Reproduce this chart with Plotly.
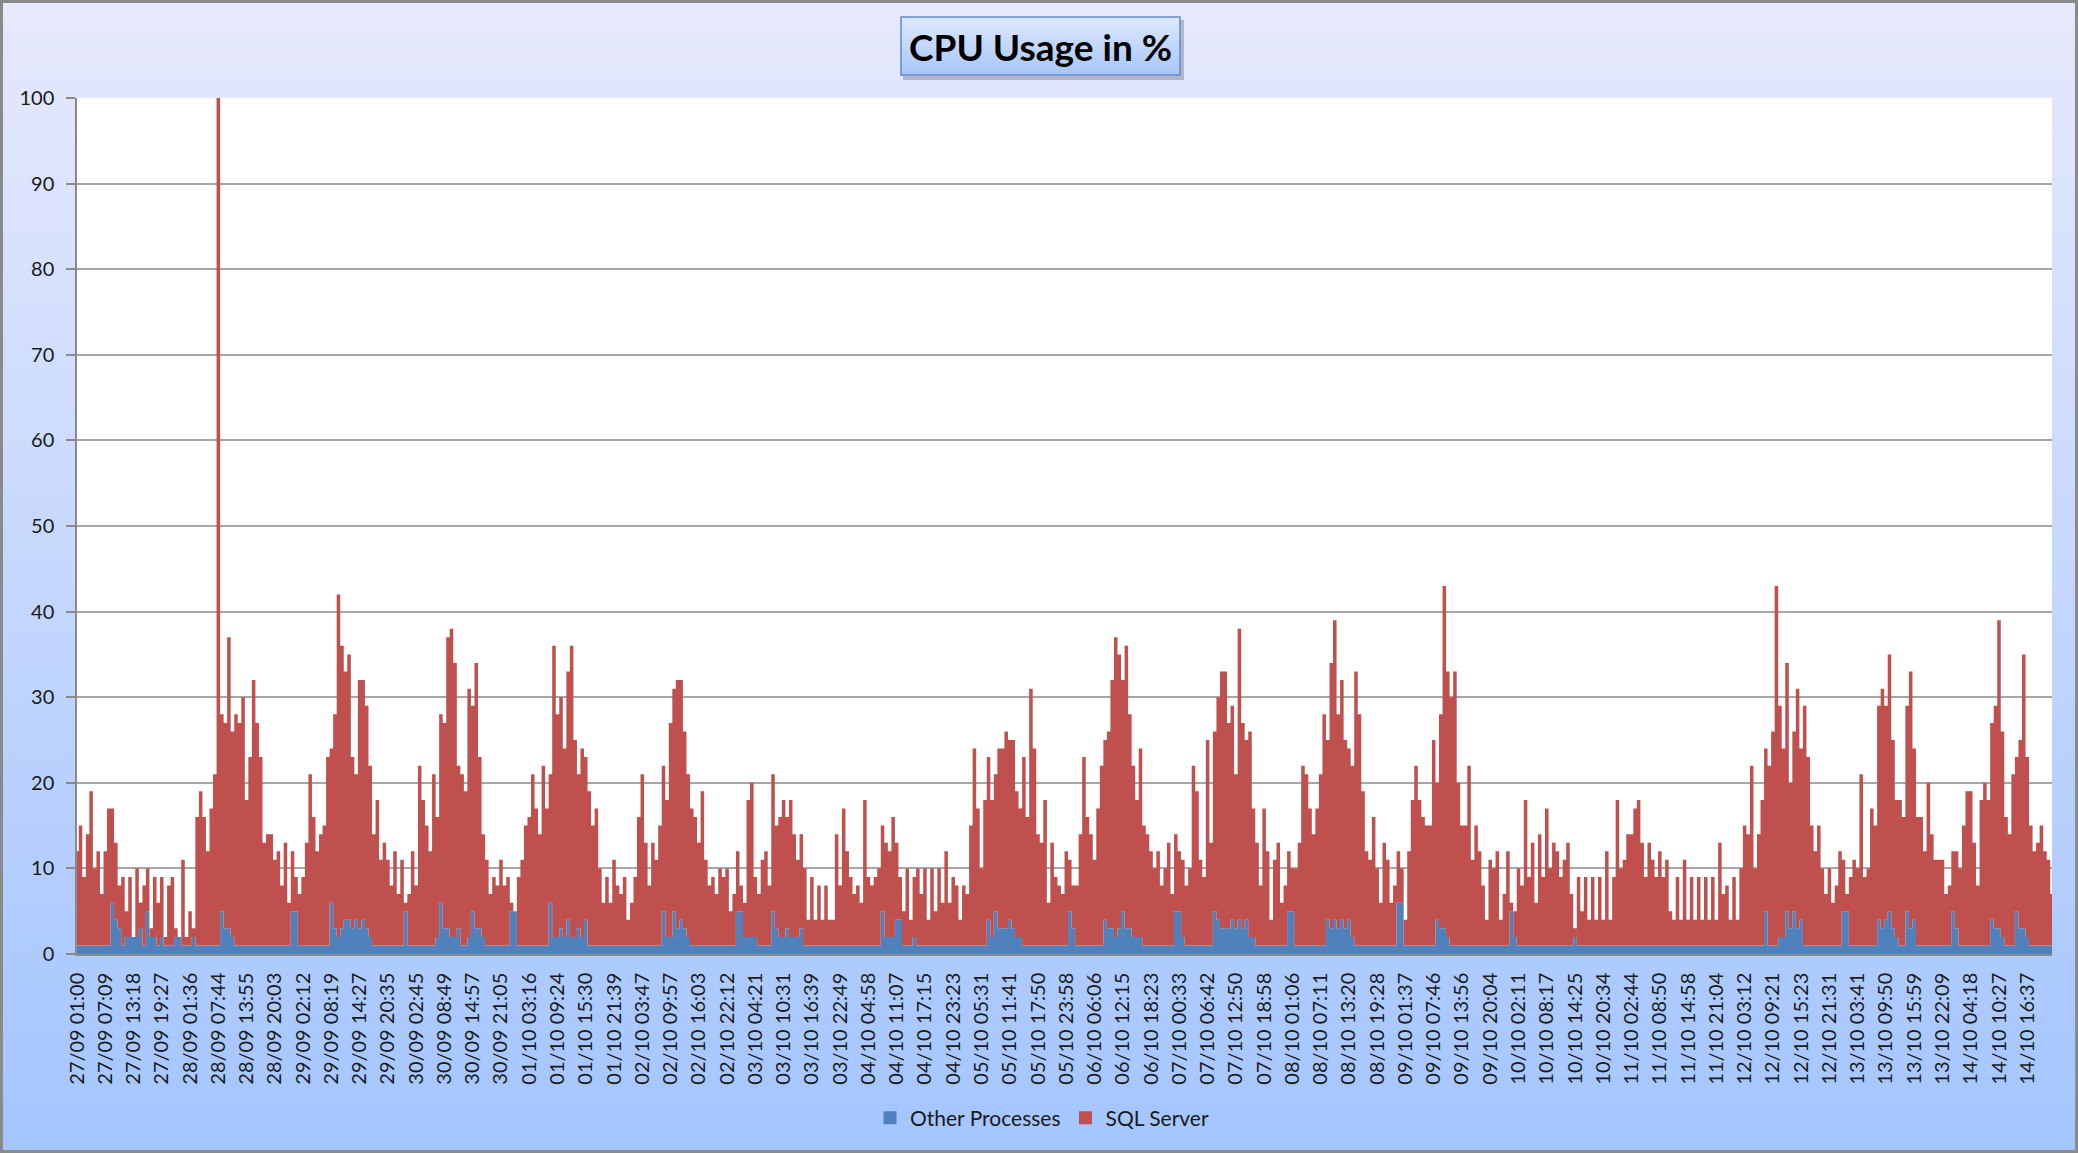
import plotly.graph_objects as go

# ---------------- data ----------------
tick_labels = [
    "27/09 01:00", "27/09 07:09", "27/09 13:18", "27/09 19:27", "28/09 01:36", "28/09 07:44",
    "28/09 13:55", "28/09 20:03", "29/09 02:12", "29/09 08:19", "29/09 14:27", "29/09 20:35",
    "30/09 02:45", "30/09 08:49", "30/09 14:57", "30/09 21:05", "01/10 03:16", "01/10 09:24",
    "01/10 15:30", "01/10 21:39", "02/10 03:47", "02/10 09:57", "02/10 16:03", "02/10 22:12",
    "03/10 04:21", "03/10 10:31", "03/10 16:39", "03/10 22:49", "04/10 04:58", "04/10 11:07",
    "04/10 17:15", "04/10 23:23", "05/10 05:31", "05/10 11:41", "05/10 17:50", "05/10 23:58",
    "06/10 06:06", "06/10 12:15", "06/10 18:23", "07/10 00:33", "07/10 06:42", "07/10 12:50",
    "07/10 18:58", "08/10 01:06", "08/10 07:11", "08/10 13:20", "08/10 19:28", "09/10 01:37",
    "09/10 07:46", "09/10 13:56", "09/10 20:04", "10/10 02:11", "10/10 08:17", "10/10 14:25",
    "10/10 20:34", "11/10 02:44", "11/10 08:50", "11/10 14:58", "11/10 21:04", "12/10 03:12",
    "12/10 09:21", "12/10 15:23", "12/10 21:31", "13/10 03:41", "13/10 09:50", "13/10 15:59",
    "13/10 22:09", "14/10 04:18", "14/10 10:27", "14/10 16:37",
]
points_per_label = 8

# top of the stack (Other Processes + SQL Server), in %
total_cpu = [
    12, 15, 9, 14, 19, 10, 12, 7, 12, 17, 17, 13, 8, 9, 5, 9,
    2, 10, 3, 8, 10, 3, 9, 6, 9, 2, 8, 9, 3, 2, 11, 2, 5, 3,
    16, 19, 16, 12, 17, 21, 100,
    28, 27, 37, 26, 28, 27, 30, 18, 23, 32, 27, 23, 13, 14, 14, 11, 12, 8, 13, 6,
    12, 9, 7, 9, 13, 21, 16, 12, 14, 15, 23, 24, 28, 42, 36, 33, 35, 23, 21, 32,
    32, 29, 22, 14, 18, 11, 13, 11, 8, 12, 7, 11, 6, 7, 12, 8, 22, 18, 15, 12,
    21, 16, 28, 27, 37, 38, 34, 22, 21, 19, 31, 29, 34, 23, 14, 11, 7, 9, 8, 11,
    8, 9, 6, 5, 9, 11, 15, 16, 21, 17, 14, 22, 17, 21, 36, 28,
    30, 24, 33, 36, 25, 21, 24, 23, 19, 15, 17, 10, 6, 9, 6, 11, 8, 7, 9, 4,
    6, 9, 16, 21, 13, 8, 13, 11, 15, 22, 18, 27, 31, 32, 32, 26, 21, 17, 16, 13,
    19, 11, 8, 9, 7, 10, 9, 10, 5, 7, 12, 8, 6, 18, 20, 9, 7, 11, 12, 8,
    21, 15, 16, 18, 16, 18, 14, 11, 14, 10, 4, 9, 4, 8, 4, 8, 4, 4, 14, 8, 17, 12,
    9, 7, 8, 6, 18, 9, 8, 9, 10, 15, 13, 12, 16, 13, 9, 5, 10, 4, 9, 10,
    7, 10, 4, 10, 5, 10, 6, 12, 6, 9, 8, 4, 8, 7, 15, 24, 17, 10, 18, 23,
    18, 21, 24, 24, 26, 25, 25, 19, 17, 23, 16, 31, 24, 14, 13, 18, 6, 13, 9, 8,
    7, 12, 11, 8, 8, 14, 23, 16, 14, 11, 17, 22, 25, 26, 32, 37, 35, 32, 36, 28, 22, 18, 24, 15,
    14, 12, 10, 12, 8, 10, 13, 7, 14, 12, 11, 8, 10, 22, 19, 11, 9, 25, 13, 26,
    30, 33, 33, 27, 29, 21, 38, 27, 25, 26, 17, 13, 8, 17, 12, 4, 11, 13, 6, 8,
    12, 10, 10, 13, 22, 21, 17, 14, 17, 21, 28, 25, 34, 39, 28, 32, 25, 24, 22, 33,
    28, 19, 12, 11, 16, 10, 6, 13, 11, 6, 8, 12, 10, 4, 12, 18, 22, 18, 16, 15, 15, 25, 20, 28,
    43, 33, 30, 33, 20, 15, 15, 22, 11, 15, 12, 8, 4, 11, 10, 12, 4, 7, 12, 6,
    5, 10, 8, 18, 9, 13, 6, 14, 9, 17, 10, 13, 12, 9, 11, 13, 7, 3, 9, 5,
    9, 4, 9, 4, 9, 4, 12, 4, 9, 18, 10, 11, 14, 14, 17, 18, 13, 9, 13, 11,
    9, 12, 9, 11, 5, 4, 9, 4, 11, 4, 9, 4, 9, 4, 9, 4, 9, 4, 13, 7, 8, 4, 9, 4, 10,
    15, 14, 22, 10, 14, 18, 24, 22, 26, 43, 29, 24, 34, 20, 26, 31, 24, 29, 23, 15,
    12, 15, 10, 7, 10, 6, 8, 12, 11, 7, 9, 11, 10, 21, 9, 10, 17, 15, 29, 31,
    29, 35, 25, 18, 18, 16, 29, 33, 24, 16, 16, 12, 20, 14, 11, 11, 11, 7, 8, 12,
    12, 10, 15, 19, 19, 13, 8, 18, 20, 18, 27, 29, 39, 26, 16, 14, 21, 23, 25, 35, 23, 15, 12, 13, 15, 12, 11, 7,
]

# Other Processes, in %
other_processes = [
    1, 1, 1, 1, 1, 1, 1, 1, 1, 1, 6, 4, 3, 1, 2, 2, 2, 2, 6, 1,
    5, 2, 2, 1, 2, 1, 1, 1, 2, 2, 1, 1, 1, 2, 1, 1, 1, 1, 1, 1,
    1, 5, 3, 3, 2, 1, 1, 1, 1, 1, 1, 1, 1, 1, 1, 1, 1, 1, 1, 1,
    1, 5, 5, 1, 1, 1, 1, 1, 1, 1, 1, 1, 6, 3, 2, 3, 4, 4, 3, 4,
    3, 4, 3, 2, 1, 1, 1, 1, 1, 1, 1, 1, 1, 5, 1, 1, 1, 1, 1, 1,
    1, 1, 2, 6, 3, 3, 2, 2, 3, 1, 1, 2, 5, 3, 3, 2, 1, 1, 1, 1,
    1, 1, 1, 5, 5, 1, 1, 1, 1, 1, 1, 1, 1, 1, 6, 2, 2, 3, 2, 4,
    2, 2, 3, 2, 4, 1, 1, 1, 1, 1, 1, 1, 1, 1, 1, 1, 1, 1, 1, 1,
    1, 1, 1, 1, 1, 1, 5, 2, 2, 5, 3, 4, 3, 2, 1, 1, 1, 1, 1, 1,
    1, 1, 1, 1, 1, 1, 1, 5, 5, 2, 2, 2, 2, 1, 1, 1, 1, 5, 3, 2,
    2, 3, 2, 2, 2, 3, 1, 1, 1, 1, 1, 1, 1, 1, 1, 1, 1, 1, 1, 1,
    1, 1, 1, 1, 1, 1, 1, 1, 5, 2, 2, 2, 4, 4, 1, 1, 1, 2, 1, 1,
    1, 1, 1, 1, 1, 1, 1, 1, 1, 1, 1, 1, 1, 1, 1, 1, 1, 1, 4, 2,
    5, 3, 3, 3, 4, 3, 2, 2, 1, 1, 1, 1, 1, 1, 1, 1, 1, 1, 1, 1,
    1, 5, 3, 1, 1, 1, 1, 1, 1, 1, 1, 4, 3, 3, 2, 3, 5, 3, 3, 2,
    2, 2, 1, 1, 1, 1, 1, 1, 1, 1, 1, 5, 5, 2, 1, 1, 1, 1, 1, 1,
    1, 1, 5, 4, 3, 3, 3, 4, 3, 4, 3, 4, 2, 2, 1, 1, 1, 1, 1, 1,
    1, 1, 1, 5, 5, 1, 1, 1, 1, 1, 1, 1, 1, 1, 4, 3, 4, 3, 4, 3,
    4, 2, 1, 1, 1, 1, 1, 1, 1, 1, 1, 1, 1, 1, 6, 6, 1, 1, 1, 1,
    1, 1, 1, 1, 1, 4, 3, 3, 2, 1, 1, 1, 1, 1, 1, 1, 1, 1, 1, 1,
    1, 1, 1, 1, 1, 1, 5, 2, 1, 1, 1, 1, 1, 1, 1, 1, 1, 1, 1, 1,
    1, 1, 1, 1, 2, 1, 1, 1, 1, 1, 1, 1, 1, 1, 1, 1, 1, 1, 1, 1,
    1, 1, 1, 1, 1, 1, 1, 1, 1, 1, 1, 1, 1, 1, 1, 1, 1, 1, 1, 1,
    1, 1, 1, 1, 1, 1, 1, 1, 1, 1, 1, 1, 1, 1, 1, 1, 1, 1, 5, 1,
    1, 1, 2, 2, 5, 3, 5, 3, 4, 1, 1, 1, 1, 1, 1, 1, 1, 1, 1, 1,
    5, 5, 1, 1, 1, 1, 1, 1, 1, 1, 4, 3, 4, 5, 3, 2, 1, 1, 5, 3,
    4, 1, 1, 1, 1, 1, 1, 1, 1, 1, 1, 5, 3, 1, 1, 1, 1, 1, 1, 1,
    1, 1, 4, 3, 3, 2, 1, 1, 1, 5, 3, 3, 2, 1, 1, 1, 1, 1, 1, 1,
]

series_names = ["Other Processes", "SQL Server"]
series_colors = ["#4F81BD", "#C0504D"]

# ---------------- figure ----------------
W, H = 2078, 1153
ML, MR, MT, MB = 77, 26, 98, 199
PW, PH = W - ML - MR, H - MT - MB

def px_to_paper_x(px):
    return (px - ML) / PW

def px_to_paper_y(py):
    return (H - MB - py) / PH

n = min(len(total_cpu), len(other_processes))
xs = list(range(n))

fig = go.Figure()
fig.add_trace(go.Scatter(
    x=xs, y=other_processes[:n], mode="lines", line=dict(width=0, shape="hvh", color=series_colors[0]),
    fill="tozeroy", fillcolor=series_colors[0], name=series_names[0], showlegend=False, hoverinfo="skip"))
fig.add_trace(go.Scatter(
    x=xs, y=total_cpu[:n], mode="lines", line=dict(width=0, shape="hvh", color=series_colors[1]),
    fill="tonexty", fillcolor=series_colors[1], name=series_names[1], showlegend=False, hoverinfo="skip"))
# legend entries (square swatches)
for nm, col in zip(series_names, series_colors):
    fig.add_trace(go.Scatter(x=[None], y=[None], mode="markers", name=nm,
                             marker=dict(symbol="square", size=13, color=col)))

# background gradient (top lavender -> bottom light blue)
shapes = []
top_rgb = (231, 233, 252)
bot_rgb = (163, 197, 255)
strips = 90
x_left, x_right = px_to_paper_x(0), px_to_paper_x(W)
for k in range(strips):
    t = (k + 0.5) / strips
    c = tuple(round(a + (b - a) * t) for a, b in zip(top_rgb, bot_rgb))
    y_top = H * k / strips
    y_bot = H * (k + 1) / strips + 1
    shapes.append(dict(type="rect", xref="paper", yref="paper", layer="below",
                       x0=x_left, x1=x_right, y0=px_to_paper_y(y_bot), y1=px_to_paper_y(y_top),
                       line=dict(width=0), fillcolor="rgb(%d,%d,%d)" % c))
# plot area white
shapes.append(dict(type="rect", xref="paper", yref="paper", layer="below",
                   x0=0, x1=1, y0=0, y1=1, line=dict(width=0), fillcolor="white"))

# title box with shadow and gradient
bx0, bx1, by0, by1 = 901, 1180, 17, 75
shapes.append(dict(type="rect", xref="paper", yref="paper", layer="below",
                   x0=px_to_paper_x(bx0 + 2), x1=px_to_paper_x(bx1 + 4),
                   y0=px_to_paper_y(by1 + 5), y1=px_to_paper_y(by0 + 3),
                   line=dict(width=0), fillcolor="rgba(90,90,110,0.35)"))
box_top = (222, 233, 253)
box_bot = (166, 198, 248)
bstrips = 20
for k in range(bstrips):
    t = (k + 0.5) / bstrips
    c = tuple(round(a + (b - a) * t) for a, b in zip(box_top, box_bot))
    yt = by0 + (by1 - by0) * k / bstrips
    yb = by0 + (by1 - by0) * (k + 1) / bstrips + 0.6
    shapes.append(dict(type="rect", xref="paper", yref="paper", layer="below",
                       x0=px_to_paper_x(bx0), x1=px_to_paper_x(bx1),
                       y0=px_to_paper_y(yb), y1=px_to_paper_y(yt),
                       line=dict(width=0), fillcolor="rgb(%d,%d,%d)" % c))
shapes.append(dict(type="rect", xref="paper", yref="paper", layer="below",
                   x0=px_to_paper_x(bx0), x1=px_to_paper_x(bx1),
                   y0=px_to_paper_y(by1), y1=px_to_paper_y(by0),
                   line=dict(width=1.5, color="#5E8CCB"), fillcolor="rgba(0,0,0,0)"))
# outer border of the chart
shapes.append(dict(type="rect", xref="paper", yref="paper", layer="above",
                   x0=px_to_paper_x(1.5), x1=px_to_paper_x(W - 1.5),
                   y0=px_to_paper_y(H - 1.5), y1=px_to_paper_y(1.5),
                   line=dict(width=3, color="#8A8A8A"), fillcolor="rgba(0,0,0,0)"))

FONT = "Lato, 'DejaVu Sans', sans-serif"

fig.update_layout(
    width=W, height=H, autosize=False,
    margin=dict(l=ML, r=MR, t=MT, b=MB, pad=0),
    paper_bgcolor="rgb(200,215,253)", plot_bgcolor="white",
    shapes=shapes,
    annotations=[dict(text="<b>CPU Usage in %</b>", xref="paper", yref="paper",
                      x=px_to_paper_x((bx0 + bx1) / 2), y=px_to_paper_y((by0 + by1) / 2 + 1),
                      xanchor="center", yanchor="middle", showarrow=False,
                      font=dict(family=FONT, size=37, color="black"))],
    showlegend=True,
    legend=dict(orientation="h", x=px_to_paper_x(1042), y=px_to_paper_y(1118),
                xanchor="center", yanchor="middle", bgcolor="rgba(0,0,0,0)",
                font=dict(family=FONT, size=21, color="#1a1a1a"), itemwidth=30,
                traceorder="normal"),
    font=dict(family=FONT, color="#1a1a1a"),
    hovermode=False,
)
fig.update_xaxes(
    range=[0, n - 1], tickmode="array",
    tickvals=[points_per_label * j for j in range(len(tick_labels))],
    ticktext=tick_labels, tickangle=-90,
    tickfont=dict(family=FONT, size=20, color="#1a1a1a"),
    ticks="outside", ticklen=9, tickcolor="rgba(0,0,0,0)",
    showgrid=False, showline=True, linecolor="#8A8A8A", linewidth=1.5,
    zeroline=False, fixedrange=True,
)
fig.update_yaxes(
    range=[0, 100], tickmode="array", tickvals=list(range(0, 101, 10)),
    tickfont=dict(family=FONT, size=20, color="#1a1a1a"),
    ticks="outside", ticklen=9, tickcolor="#8A8A8A", tickwidth=1.5,
    ticklabelstandoff=8,
    showgrid=True, gridcolor="#A6A6A6", gridwidth=1.5,
    showline=True, linecolor="#8A8A8A", linewidth=1.5,
    zeroline=False, fixedrange=True,
)

fig.write_html("out.html", config={"displayModeBar": False},
               post_script="document.body.style.margin='0';document.body.style.overflow='hidden';")
